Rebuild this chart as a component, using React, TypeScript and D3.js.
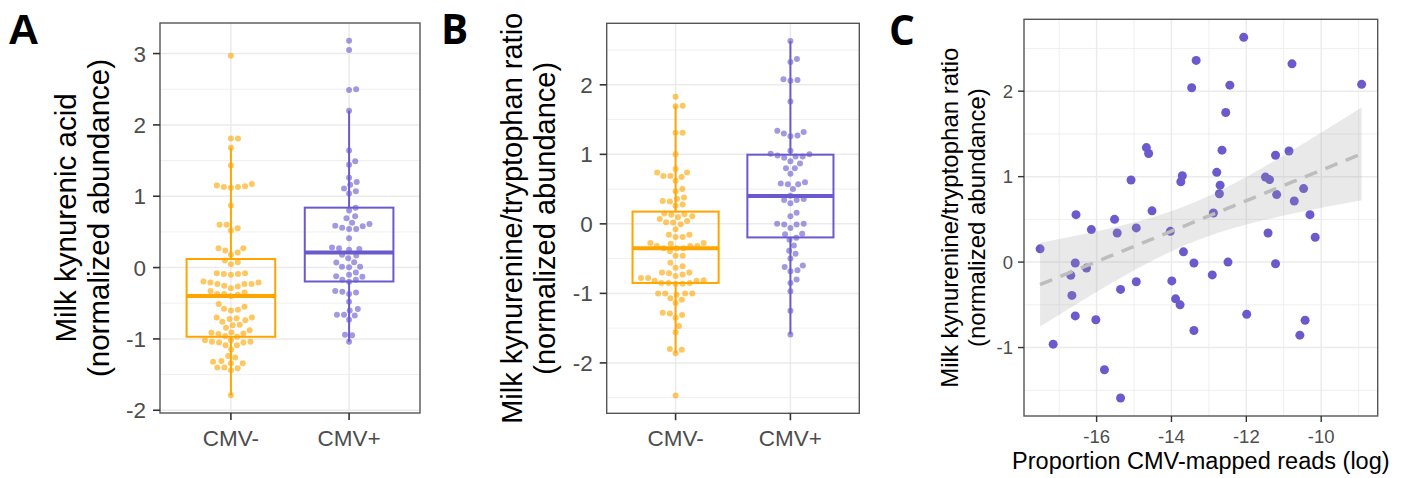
import React from 'react';
import * as d3 from 'd3';

// groups and colours
const groups = ['CMV-', 'CMV+'];
const groupColors = ['#FFA500', '#6A5ACD'];

// panel A: milk kynurenic acid
const kynNeg = [2.97, 1.81, 1.81, 1.68, 1.43, 1.15, 1.13, 1.12, 1.13, 1.14, 1.17, 0.87, 0.60, 0.60, 0.52, 0.55,
  0.27, 0.21, 0.18, 0.24, 0.27, 0.075, 0.047, 0.10, -0.08, -0.10, -0.09, -0.09, -0.08, -0.21, -0.255, -0.21,
  -0.23, -0.29, -0.23, -0.265, -0.23, -0.195, -0.33, -0.35, -0.40, -0.37, -0.38, -0.37, -0.51, -0.576, -0.60,
  -0.59, -0.55, -0.70, -0.74, -0.80, -0.81, -0.76, -0.72, -0.71, -0.70, -0.845, -0.91, -0.925, -0.93, -0.915,
  -0.88, -0.96, -1.02, -1.04, -1.09, -1.15, -1.05, -1.09, -1.05, -1.04, -1.02, -0.97, -1.26, -1.24, -1.31,
  -1.32, -1.40, -1.40, -1.44, -1.41, -1.34, -1.34, -1.79];
const kynPos = [3.18, 3.05, 2.5, 2.49, 2.2, 1.64, 1.49, 1.44, 1.26, 1.20, 1.16, 1.11, 1.07, 1.04, 0.84, 0.80,
  0.72, 0.69, 0.63, 0.61, 0.585, 0.58, 0.56, 0.54, 0.54, 0.41, 0.28, 0.27, 0.26, 0.25, 0.18, 0.17, 0.13, 0.075,
  0.07, 0.01, 0.005, 0.01, -0.07, -0.10, -0.12, -0.13, -0.17, -0.17, -0.2, -0.33, -0.34, -0.35, -0.37, -0.48,
  -0.58, -0.6, -0.66, -0.66, -0.67, -0.73, -0.94, -0.95, -1.04];
const kynQ1 = [-0.97, -0.195];
const kynMed = [-0.40, 0.21];
const kynQ3 = [0.12, 0.84];
const kynTicks = [-2, -1, 0, 1, 2, 3];

// panel B: kynurenine/tryptophan ratio
const ratioNeg = [1.83, 1.69, 1.70, 1.31, 1.31, 1.0, 0.79, 0.74, 0.69, 0.675, 0.69, 0.74, 0.62, 0.50, 0.47,
  0.38, 0.36, 0.28, 0.26, 0.32, 0.33, 0.15, 0.11, 0.04, 0.024, 0.095, 0.14, 0.02, 0.07, 0.13, -0.076, -0.005,
  -0.157, -0.19, -0.19, -0.157, -0.276, -0.32, -0.32, -0.286, -0.35, -0.35, -0.35, -0.32, -0.276, -0.395,
  -0.457, -0.457, -0.56, -0.63, -0.70, -0.73, -0.70, -0.61, -0.71, -0.78, -0.81, -0.82, -0.85, -0.86, -0.86,
  -0.85, -0.85, -0.82, -0.78, -0.75, -1.0, -1.02, -1.07, -1.14, -1.09, -1.0, -1.0, -1.0, -1.28, -1.29, -1.35,
  -1.31, -1.47, -1.56, -1.8, -1.81, -1.86, -2.47];
const ratioPos = [2.63, 2.33, 2.37, 2.08, 2.06, 2.07, 1.76, 1.32, 1.30, 1.26, 1.27, 1.34, 1.05, 1.0, 0.97,
  0.985, 0.95, 0.97, 1.01, 0.87, 0.80, 0.90, 0.80, 0.72, 0.58, 0.57, 0.5, 0.57, 0.6, 0.357, 0.343, 0.295, 0.343,
  0.405, 0.11, 0.16, 0.0, -0.01, -0.06, 0.0, -0.01, -0.143, -0.15, -0.23, -0.20, -0.31, -0.386, -0.43, -0.5,
  -0.6, -0.667, -0.68, -0.62, -0.8, -0.85, -0.97, -1.25, -1.59];
const ratioQ1 = [-0.85, -0.195];
const ratioMed = [-0.35, 0.40];
const ratioQ3 = [0.176, 0.995];
const ratioTicks = [-2, -1, 0, 1, 2];

// panel C: ratio vs CMV reads
const cmvLog = [-17.51, -17.16, -16.55, -16.57, -16.69, -16.66, -16.57, -16.27, -16.14, -16.02, -15.79, -15.52,
  -15.45, -15.36, -15.36, -15.08, -14.94, -14.94, -14.67, -14.61, -14.52, -14.03, -13.99, -13.89, -13.77, -13.75,
  -13.71, -13.68, -13.46, -13.34, -13.40, -13.40, -12.91, -12.88, -12.79, -12.70, -12.72, -12.65, -12.55, -12.44,
  -12.49, -12.07, -11.99, -11.49, -11.38, -11.42, -11.22, -11.19, -11.22, -10.86, -10.78, -10.72, -10.47, -10.43,
  -10.57, -10.30, -10.16, -8.92];
const cmvRatio = [0.155, -0.96, 0.555, -0.01, -0.155, -0.39, -0.63, -0.07, 0.38, -0.675, -1.26, 0.50, 0.34,
  -0.32, -1.59, 0.96, 0.40, -0.23, 1.34, 1.27, 0.60, 0.36, -0.22, -0.43, -0.50, 0.94, 1.01, 0.12, 2.04, 2.36,
  -0.01, -0.80, -0.15, 0.575, 1.05, 0.90, 0.80, 1.31, 1.75, 2.07, 0.0, 2.63, -0.61, 0.995, 0.965, 0.34, 1.25,
  0.79, -0.02, 1.30, 2.32, 0.715, 0.86, -0.68, -0.855, 0.555, 0.29, 2.08];
const cXTicks = [-16, -14, -12, -10];
const cYTicks = [-1, 0, 1, 2];
const T_CRIT = 2.003; // t(0.975, df = 56)

const font = '"Liberation Sans", Arial, sans-serif';
const labelFontB = '"Open Sans", sans-serif';
const gridCol = '#ebebeb';
const tickCol = '#4d4d4d';

const expand = (vals: number[]): [number, number] => {
  const [lo, hi] = d3.extent(vals) as [number, number];
  const pad = (hi - lo) * 0.05;
  return [lo - pad, hi + pad];
};

const minorOf = (ticks: number[], domain: number[]) => {
  const step = ticks[1] - ticks[0];
  const out: number[] = [];
  for (let v = ticks[0] - step / 2; v <= ticks[ticks.length - 1] + step; v += step) {
    if (v > domain[0] && v < domain[1]) out.push(v);
  }
  return out;
};

// simple beeswarm: place points (ascending) at the offset closest to the centre without overlap
const swarm = (values: number[], y: (v: number) => number, d: number) => {
  const order = d3.range(values.length).sort((a, b) => values[a] - values[b]);
  const placed: { x: number; y: number }[] = [];
  const xs: number[] = new Array(values.length).fill(0);
  for (const i of order) {
    const yi = y(values[i]);
    const near = placed.filter(p => Math.abs(p.y - yi) < d);
    const cands = [0];
    near.forEach(p => {
      const dx = Math.sqrt(d * d - (p.y - yi) ** 2);
      cands.push(p.x + dx, p.x - dx);
    });
    cands.sort((a, b) => Math.abs(a) - Math.abs(b));
    const ok = cands.find(c => near.every(p => (p.x - c) ** 2 + (p.y - yi) ** 2 >= d * d - 1e-6)) ?? 0;
    xs[i] = ok;
    placed.push({ x: ok, y: yi });
  }
  return xs;
};

type BoxProps = {
  left: number; right: number; top: number; bottom: number;
  series: number[][]; q1: number[]; med: number[]; q3: number[]; ticks: number[];
  title: string[]; titleX: number[]; titleSize: number;
  label: string; labelX: number; labelY: number; labelSize: number; labelFont: string;
};

const BoxPanel = (p: BoxProps) => {
  const domain = expand(p.series.flat());
  const y = d3.scaleLinear().domain(domain).range([p.bottom, p.top]);
  const x = d3.scalePoint<string>().domain(groups).range([p.left, p.right]).padding(0.6);
  const bw = x.step() * 0.75;
  const minor = minorOf(p.ticks, domain);
  const cy = (p.top + p.bottom) / 2;

  return (
    <g>
      {minor.map(v => (
        <line key={'mn' + v} x1={p.left} x2={p.right} y1={y(v)} y2={y(v)} stroke={gridCol} strokeWidth={0.8} />
      ))}
      {p.ticks.map(v => (
        <line key={'mj' + v} x1={p.left} x2={p.right} y1={y(v)} y2={y(v)} stroke={gridCol} strokeWidth={1.5} />
      ))}
      {groups.map(g => (
        <line key={'vg' + g} x1={x(g)} x2={x(g)} y1={p.top} y2={p.bottom} stroke={gridCol} strokeWidth={1.5} />
      ))}
      {p.series.map((vals, gi) => {
        const offs = swarm(vals, y, 7.1);
        return vals.map((v, i) => (
          <circle key={gi + '-' + i} cx={(x(groups[gi]) as number) + offs[i]} cy={y(v)} r={3}
            fill={groupColors[gi]} fillOpacity={0.62} />
        ));
      })}
      {p.series.map((vals, gi) => {
        const cx = x(groups[gi]) as number;
        const iqr = p.q3[gi] - p.q1[gi];
        const hiW = d3.max(vals.filter(v => v <= p.q3[gi] + 1.5 * iqr)) as number;
        const loW = d3.min(vals.filter(v => v >= p.q1[gi] - 1.5 * iqr)) as number;
        const c = groupColors[gi];
        return (
          <g key={'box' + gi}>
            <line x1={cx} x2={cx} y1={y(p.q3[gi])} y2={y(hiW)} stroke={c} strokeWidth={2} />
            <line x1={cx} x2={cx} y1={y(p.q1[gi])} y2={y(loW)} stroke={c} strokeWidth={2} />
            <rect x={cx - bw / 2} y={y(p.q3[gi])} width={bw} height={y(p.q1[gi]) - y(p.q3[gi])}
              fill="none" stroke={c} strokeWidth={2} />
            <line x1={cx - bw / 2} x2={cx + bw / 2} y1={y(p.med[gi])} y2={y(p.med[gi])} stroke={c} strokeWidth={4} />
          </g>
        );
      })}
      <rect x={p.left} y={p.top} width={p.right - p.left} height={p.bottom - p.top}
        fill="none" stroke="#555" strokeWidth={1.4} />
      {p.ticks.map(v => (
        <g key={'yt' + v}>
          <line x1={p.left - 7} x2={p.left} y1={y(v)} y2={y(v)} stroke="#333" strokeWidth={1.6} />
          <text x={p.left - 14} y={y(v)} dy="0.36em" textAnchor="end" fontSize={22.5} fill={tickCol}
            fontFamily={font}>{v}</text>
        </g>
      ))}
      {groups.map(g => (
        <g key={'xt' + g}>
          <line x1={x(g)} x2={x(g)} y1={p.bottom} y2={p.bottom + 7} stroke="#333" strokeWidth={1.6} />
          <text x={x(g)} y={446} textAnchor="middle" fontSize={22.5} fill={tickCol} fontFamily={font}>{g}</text>
        </g>
      ))}
      {p.title.map((t, i) => (
        <text key={'ti' + i} transform={`translate(${p.titleX[i]},${cy}) rotate(-90)`} textAnchor="middle"
          fontSize={p.titleSize} fill="#000" fontFamily={font}>{t}</text>
      ))}
      <text x={p.labelX} y={p.labelY} fontSize={p.labelSize} fontWeight="bold" fontFamily={p.labelFont}
        fill="#000">{p.label}</text>
    </g>
  );
};

const ScatterPanel = () => {
  const left = 1024, right = 1377.7, top = 19.3, bottom = 416;
  const xDom = expand(cmvLog);
  const yDom = expand(cmvRatio);
  const xs = d3.scaleLinear().domain(xDom).range([left, right]);
  const ys = d3.scaleLinear().domain(yDom).range([bottom, top]);

  // linear fit with 95% confidence band
  const n = cmvLog.length;
  const mx = d3.mean(cmvLog) as number;
  const my = d3.mean(cmvRatio) as number;
  const sxx = d3.sum(cmvLog, v => (v - mx) ** 2);
  const sxy = d3.sum(cmvLog.map((v, i) => (v - mx) * (cmvRatio[i] - my)));
  const slope = sxy / sxx;
  const icpt = my - slope * mx;
  const s = Math.sqrt(d3.sum(cmvLog.map((v, i) => (cmvRatio[i] - icpt - slope * v) ** 2)) / (n - 2));
  const [x0, x1] = d3.extent(cmvLog) as [number, number];
  const band = d3.range(80).map(i => {
    const gx = x0 + ((x1 - x0) * i) / 79;
    const fit = icpt + slope * gx;
    const se = s * Math.sqrt(1 / n + (gx - mx) ** 2 / sxx);
    return { gx, fit, lo: fit - T_CRIT * se, hi: fit + T_CRIT * se };
  });
  const area = d3.area<typeof band[0]>().x(d => xs(d.gx)).y0(d => ys(d.lo)).y1(d => ys(d.hi));
  const line = d3.line<typeof band[0]>().x(d => xs(d.gx)).y(d => ys(d.fit));

  const xMinor = minorOf(cXTicks, xDom);
  const yMinor = minorOf(cYTicks, yDom);
  const cy = (top + bottom) / 2;

  return (
    <g>
      {yMinor.map(v => <line key={'ym' + v} x1={left} x2={right} y1={ys(v)} y2={ys(v)} stroke={gridCol} strokeWidth={0.8} />)}
      {xMinor.map(v => <line key={'xm' + v} x1={xs(v)} x2={xs(v)} y1={top} y2={bottom} stroke={gridCol} strokeWidth={0.8} />)}
      {cYTicks.map(v => <line key={'yg' + v} x1={left} x2={right} y1={ys(v)} y2={ys(v)} stroke={gridCol} strokeWidth={1.5} />)}
      {cXTicks.map(v => <line key={'xg' + v} x1={xs(v)} x2={xs(v)} y1={top} y2={bottom} stroke={gridCol} strokeWidth={1.5} />)}
      {cmvLog.map((v, i) => (
        <circle key={'p' + i} cx={xs(v)} cy={ys(cmvRatio[i])} r={4.5} fill="#6A5ACD" />
      ))}
      <path d={area(band) as string} fill="#999" fillOpacity={0.22} />
      <path d={line(band) as string} fill="none" stroke="#bdbdbd" strokeWidth={3.5} strokeDasharray="13 9" />
      <rect x={left} y={top} width={right - left} height={bottom - top} fill="none" stroke="#555" strokeWidth={1.4} />
      {cYTicks.map(v => (
        <g key={'yt' + v}>
          <line x1={left - 6} x2={left} y1={ys(v)} y2={ys(v)} stroke="#333" strokeWidth={1.4} />
          <text x={left - 11} y={ys(v)} dy="0.36em" textAnchor="end" fontSize={18.5} fill={tickCol} fontFamily={font}>{v}</text>
        </g>
      ))}
      {cXTicks.map(v => (
        <g key={'xt' + v}>
          <line x1={xs(v)} x2={xs(v)} y1={bottom} y2={bottom + 6} stroke="#333" strokeWidth={1.4} />
          <text x={xs(v)} y={443} textAnchor="middle" fontSize={18.5} fill={tickCol} fontFamily={font}>{v}</text>
        </g>
      ))}
      <text transform={`translate(958,${cy}) rotate(-90)`} textAnchor="middle" fontSize={24} fontFamily={font}>
        Milk kynurenine/tryptophan ratio
      </text>
      <text transform={`translate(985,${cy}) rotate(-90)`} textAnchor="middle" fontSize={24} fontFamily={font}>
        (normalized abundance)
      </text>
      <text x={(left + right) / 2} y={469} textAnchor="middle" fontSize={23.5} fontFamily={font}>
        Proportion CMV-mapped reads (log)
      </text>
      <text x={889} y={44.5} fontSize={40.5} fontWeight="bold" fontFamily={labelFontB}>C</text>
    </g>
  );
};

const App = () => (
  <svg width={1427} height={478} style={{ position: 'absolute', left: 0, top: 0, background: '#fff' }}>
    <rect width={1427} height={478} fill="#fff" />
    <BoxPanel left={160} right={420} top={23} bottom={413} series={[kynNeg, kynPos]} q1={kynQ1} med={kynMed}
      q3={kynQ3} ticks={kynTicks} title={['Milk kynurenic acid', '(normalized abundance)']} titleX={[76, 109]}
      titleSize={29.5} label="A" labelX={8} labelY={44} labelSize={43} labelFont={font} />
    <BoxPanel left={606.7} right={859.3} top={23.3} bottom={413.3} series={[ratioNeg, ratioPos]} q1={ratioQ1}
      med={ratioMed} q3={ratioQ3} ticks={ratioTicks}
      title={['Milk kynurenine/tryptophan ratio', '(normalized abundance)']} titleX={[522, 555]}
      titleSize={29} label="B" labelX={441} labelY={44} labelSize={40.5} labelFont={labelFontB} />
    <ScatterPanel />
  </svg>
);

export default App;
